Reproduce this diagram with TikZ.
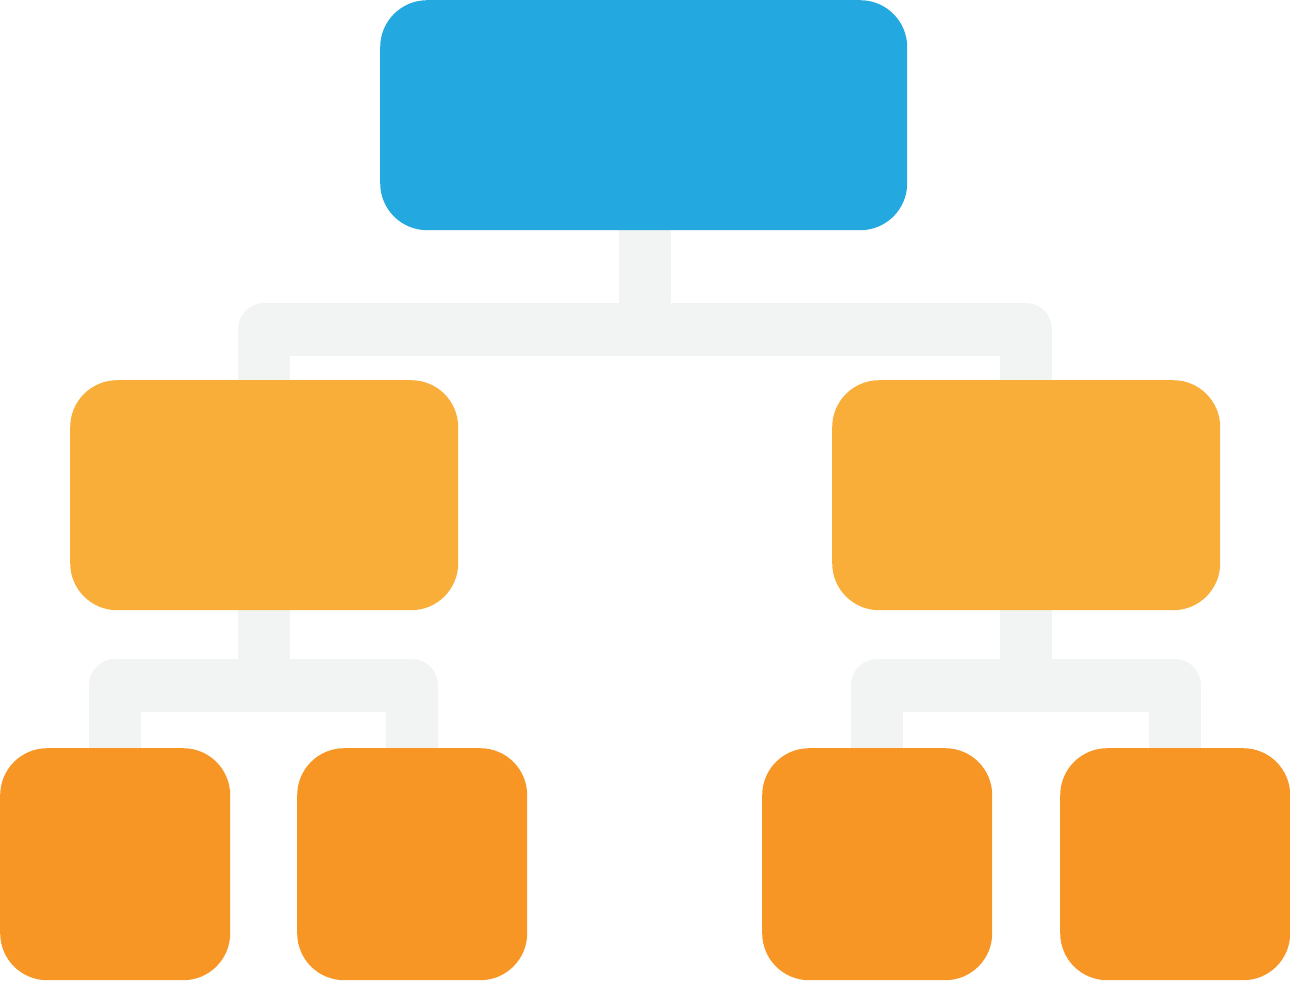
\documentclass[tikz,border=0pt]{standalone}
\usetikzlibrary{backgrounds}
\definecolor{topblue}{HTML}{23A8E0}
\definecolor{midorange}{HTML}{F9AE3A}
\definecolor{loworange}{HTML}{F79624}
\definecolor{connGray}{HTML}{F2F3F3}
\tikzset{
  box/.style={rectangle, rounded corners=47pt, inner sep=0pt, anchor=north west, draw=none},
  topbox/.style={box, fill=topblue, minimum width=527pt, minimum height=230pt},
  midbox/.style={box, fill=midorange, minimum width=388pt, minimum height=230pt},
  lowbox/.style={box, fill=loworange, minimum width=230pt, minimum height=232pt},
  conn/.style={draw=connGray, line width=52.5pt, line join=round, line cap=butt}
}
\begin{document}
\begin{tikzpicture}[x=1pt,y=-1pt]
\useasboundingbox (0,0) rectangle (1290,980);
\node[topbox] (top) at (380,0) {};
\node[midbox] (lm) at (70,380) {};
\node[midbox] (rm) at (832,380) {};
\node[lowbox] (b1) at (0,748) {};
\node[lowbox] (b2) at (297,748) {};
\node[lowbox] (b3) at (762,748) {};
\node[lowbox] (b4) at (1060,748) {};
\begin{scope}[on background layer]
  \path (top.south) ++(1.5,0) coordinate (t1);
  \coordinate (j1) at (t1 |- 0,329.5);
  \coordinate (j2) at (lm.south |- 0,685.5);
  \coordinate (j3) at (rm.south |- 0,685.5);
  \draw[conn] (t1) -- (j1);
  \draw[conn] (lm.north) |- (j1) -| (rm.north);
  \draw[conn] (lm.south) -- (j2);
  \draw[conn] (b1.north) |- (j2) -| (b2.north);
  \draw[conn] (rm.south) -- (j3);
  \draw[conn] (b3.north) |- (j3) -| (b4.north);
\end{scope}
\end{tikzpicture}
\end{document}
